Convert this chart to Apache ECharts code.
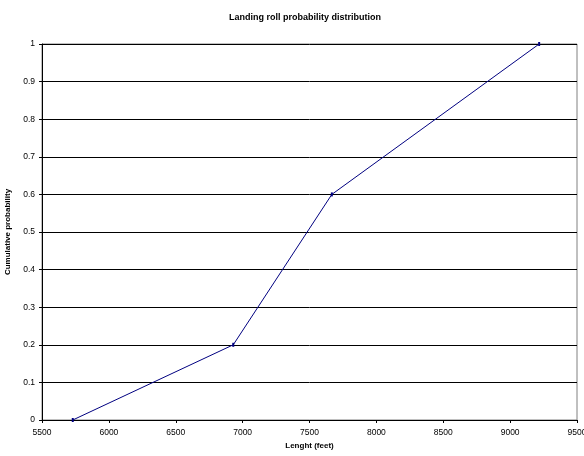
<!DOCTYPE html>
<html><head><meta charset="utf-8">
<script src="https://cdn.jsdelivr.net/npm/echarts@6/dist/echarts.min.js"></script>
<style>html,body{margin:0;padding:0;background:#fff}#c{width:584px;height:456px}</style>
</head><body><div id="c"></div>
<script>
const lengths = [5730, 6930, 7667, 9217];
const probabilities = [0, 0.2, 0.6, 1];
const titleText = 'Landing roll probability distribution';
const xName = 'Lenght (feet)';
const yName = 'Cumulative probability';

const chart = echarts.init(document.getElementById('c'), null, {renderer:'canvas'});
const font = 'Liberation Sans, Arial, sans-serif';
chart.setOption({
  animation:false,
  backgroundColor:'#fff',
  title:{text:titleText,left:300,top:8,textAlign:'center',textStyle:{fontFamily:font,fontSize:9,fontWeight:'bold',color:'#000'}},
  grid:{left:42,right:7,top:44,bottom:36,show:true,borderColor:'#808080',borderWidth:1,backgroundColor:'#fff',
    containLabel:false,outerBoundsMode:'none'},
  xAxis:{type:'value',min:5500,max:9500,interval:500,
    name:xName,nameLocation:'middle',nameGap:22,
    nameTextStyle:{fontFamily:font,fontSize:8,fontWeight:'bold',color:'#000'},
    axisLine:{show:true,lineStyle:{color:'#000',width:1}},
    axisTick:{show:true,length:3,lineStyle:{color:'#000'}},
    axisLabel:{fontFamily:font,fontSize:8.5,color:'#000',margin:8,formatter:v=>String(v)},
    splitLine:{show:false}},
  yAxis:{type:'value',min:0,max:1,interval:0.1,
    name:yName,nameLocation:'middle',nameGap:26,
    nameTextStyle:{fontFamily:font,fontSize:8,fontWeight:'bold',color:'#000'},
    axisLine:{show:true,lineStyle:{color:'#000',width:1}},
    axisTick:{show:true,length:3,lineStyle:{color:'#000'}},
    axisLabel:{fontFamily:font,fontSize:8.5,color:'#000',margin:7,formatter:v=>String(Math.round(v*10)/10)},
    splitLine:{show:true,lineStyle:{color:'#000',width:1}}},
  series:[{type:'line',data:lengths.map((x,i)=>[x,probabilities[i]]),
    lineStyle:{color:'#000080',width:1},itemStyle:{color:'#000080'},
    symbol:'rect',symbolSize:[2,4],showSymbol:true}]
});
</script></body></html>
